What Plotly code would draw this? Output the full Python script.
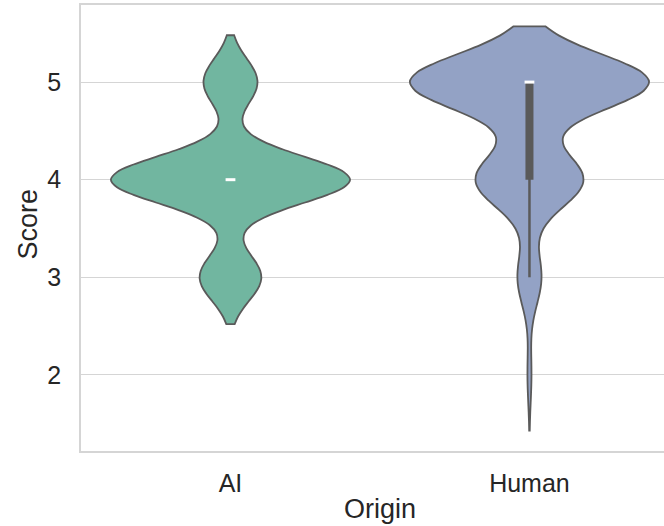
import numpy as np
import plotly.graph_objects as go

# ---- data ----
categories = ["AI", "Human"]
score_levels = [2, 3, 4, 5]
ai_counts = [0, 8, 31, 7]
human_counts = [1, 6, 27, 60]
bandwidths = [0.24, 0.285]
y_ticks = [2, 3, 4, 5]

fill_colors = ["#71b6a0", "#93a2c5"]
edge_color = "#5a5a5a"
text_color = "#262626"
grid_color = "#d5d5d5"

samples = [np.repeat(score_levels, ai_counts), np.repeat(score_levels, human_counts)]

fig = go.Figure()

for cat, data, bw, fc in zip(categories, samples, bandwidths, fill_colors):
    fig.add_trace(go.Violin(
        x=[cat] * len(data), y=data, name=cat,
        bandwidth=bw, spanmode="soft", scalemode="width", width=0.8,
        fillcolor=fc, line=dict(color=edge_color, width=1.8),
        points=False, box_visible=False, meanline_visible=False,
        showlegend=False, hoverinfo="skip",
    ))

for cat, data in zip(categories, samples):
    q1, med, q3 = np.percentile(data, [25, 50, 75])
    iqr = q3 - q1
    lo = data[data >= q1 - 1.5 * iqr].min()
    hi = data[data <= q3 + 1.5 * iqr].max()
    # whisker
    fig.add_trace(go.Scatter(x=[cat, cat], y=[lo, hi], mode="lines",
                             line=dict(color=edge_color, width=2.5),
                             showlegend=False, hoverinfo="skip"))
    # box
    fig.add_trace(go.Scatter(x=[cat, cat], y=[q1, q3], mode="lines",
                             line=dict(color=edge_color, width=8),
                             showlegend=False, hoverinfo="skip"))
    # median
    fig.add_trace(go.Scatter(x=[cat], y=[med], mode="markers",
                             marker=dict(symbol="line-ew", size=7,
                                         line=dict(color="white", width=3)),
                             showlegend=False, hoverinfo="skip"))

fig.update_layout(
    width=664, height=526,
    margin=dict(l=81, r=0, t=5, b=75),
    paper_bgcolor="white", plot_bgcolor="white",
    font=dict(family="Liberation Sans, Arial, sans-serif", color=text_color, size=25),
    xaxis=dict(
        type="category", categoryorder="array", categoryarray=categories,
        range=[-0.5, 1.45], showgrid=False, zeroline=False, automargin=False,
        showline=True, linecolor=grid_color, linewidth=1.5, mirror=True,
        ticks="", tickfont=dict(size=25), ticklabelstandoff=9,
    ),
    yaxis=dict(
        range=[1.22, 5.79], tickvals=y_ticks, showgrid=True, automargin=False,
        gridcolor=grid_color, gridwidth=1.2, zeroline=False,
        showline=True, linecolor=grid_color, linewidth=1.5,
        ticks="", tickfont=dict(size=25), ticklabelstandoff=13,
    ),
    annotations=[
        dict(text="Origin", xref="paper", yref="paper", x=0.513, y=-0.131,
             xanchor="center", yanchor="middle", showarrow=False,
             font=dict(size=27, color=text_color)),
        dict(text="Score", xref="paper", yref="paper", x=-0.091, y=0.51,
             xanchor="center", yanchor="middle", showarrow=False, textangle=-90,
             font=dict(size=27, color=text_color)),
    ],
)

fig.write_html("out.html", config={"displayModeBar": False},
               post_script="document.body.style.margin='0';document.body.style.overflow='hidden';")
